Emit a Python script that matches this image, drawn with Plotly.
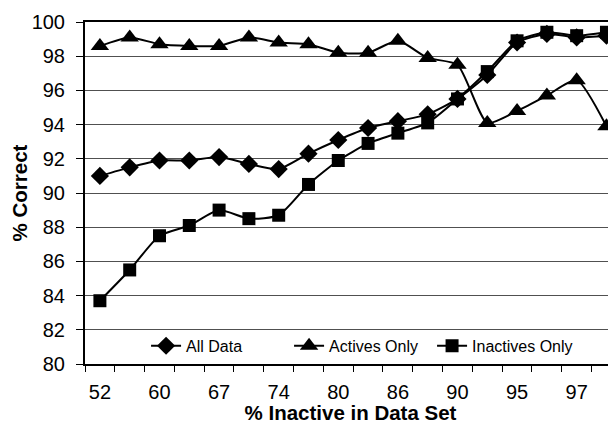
import plotly.graph_objects as go

categories = ["52", "56", "60", "64", "67", "71", "74", "77", "80", "83",
              "86", "88", "90", "93", "95", "96", "97", "98"]
tick_labels = [c if i % 2 == 0 else "" for i, c in enumerate(categories)]

all_data = [91.0, 91.5, 91.9, 91.9, 92.1, 91.7, 91.4, 92.3, 93.1, 93.8,
            94.2, 94.6, 95.5, 96.9, 98.8, 99.3, 99.1, 99.2]
actives_only = [98.6, 99.1, 98.7, 98.6, 98.6, 99.1, 98.8, 98.7, 98.2, 98.2,
                98.9, 97.9, 97.5, 94.1, 94.8, 95.7, 96.6, 93.9]
inactives_only = [83.7, 85.5, 87.5, 88.1, 89.0, 88.5, 88.7, 90.5, 91.9, 92.9,
                  93.5, 94.1, 95.5, 97.1, 98.9, 99.4, 99.2, 99.4]

FONT = "Arial, Liberation Sans, sans-serif"
line = dict(color="black", width=2, shape="spline", smoothing=0.6)

fig = go.Figure()
fig.add_trace(go.Scatter(x=categories, y=all_data, name="All Data", mode="lines+markers",
                         line=line, marker=dict(symbol="diamond", size=14, color="black")))
fig.add_trace(go.Scatter(x=categories, y=actives_only, name="Actives Only", mode="lines+markers",
                         line=line, marker=dict(symbol="triangle-up", size=16, color="black")))
fig.add_trace(go.Scatter(x=categories, y=inactives_only, name="Inactives Only", mode="lines+markers",
                         line=line, marker=dict(symbol="square", size=13, color="black")))

fig.update_layout(
    width=608, height=416,
    margin=dict(l=77, r=0, t=14, b=60, autoexpand=False),
    paper_bgcolor="white", plot_bgcolor="white",
    font=dict(family=FONT, color="black", size=20),
    showlegend=True,
    legend=dict(orientation="h", x=0.115, xanchor="left", y=0.053, yanchor="middle",
                bgcolor="rgba(0,0,0,0)", font=dict(size=16, family=FONT), itemwidth=30,
                entrywidth=98, entrywidthmode="pixels",
                traceorder="normal"),
    xaxis=dict(
        type="category", range=[-0.5, 17.32], automargin=False,
        tickmode="array", tickvals=categories, ticktext=tick_labels, tickangle=0,
        tickson="boundaries", ticks="outside", ticklen=6, tickwidth=1, tickcolor="black",
        showline=True, linecolor="black", linewidth=2, mirror=True,
        showgrid=False, zeroline=False, ticklabelstandoff=9,
        tickfont=dict(size=20),
        title=dict(text="<b>% Inactive in Data Set</b>", font=dict(size=20.5), standoff=9),
    ),
    yaxis=dict(
        range=[80, 100], dtick=2, tick0=80, automargin=False,
        ticks="outside", ticklen=7, tickwidth=1, tickcolor="black",
        showline=True, linecolor="black", linewidth=2,
        showgrid=True, gridcolor="#505050", gridwidth=1, zeroline=False,
        ticklabelstandoff=7,
        tickfont=dict(size=20),
        title=dict(text="<b>% Correct</b>", font=dict(size=20.5), standoff=12),
    ),
)

fig.write_html("out.html")
